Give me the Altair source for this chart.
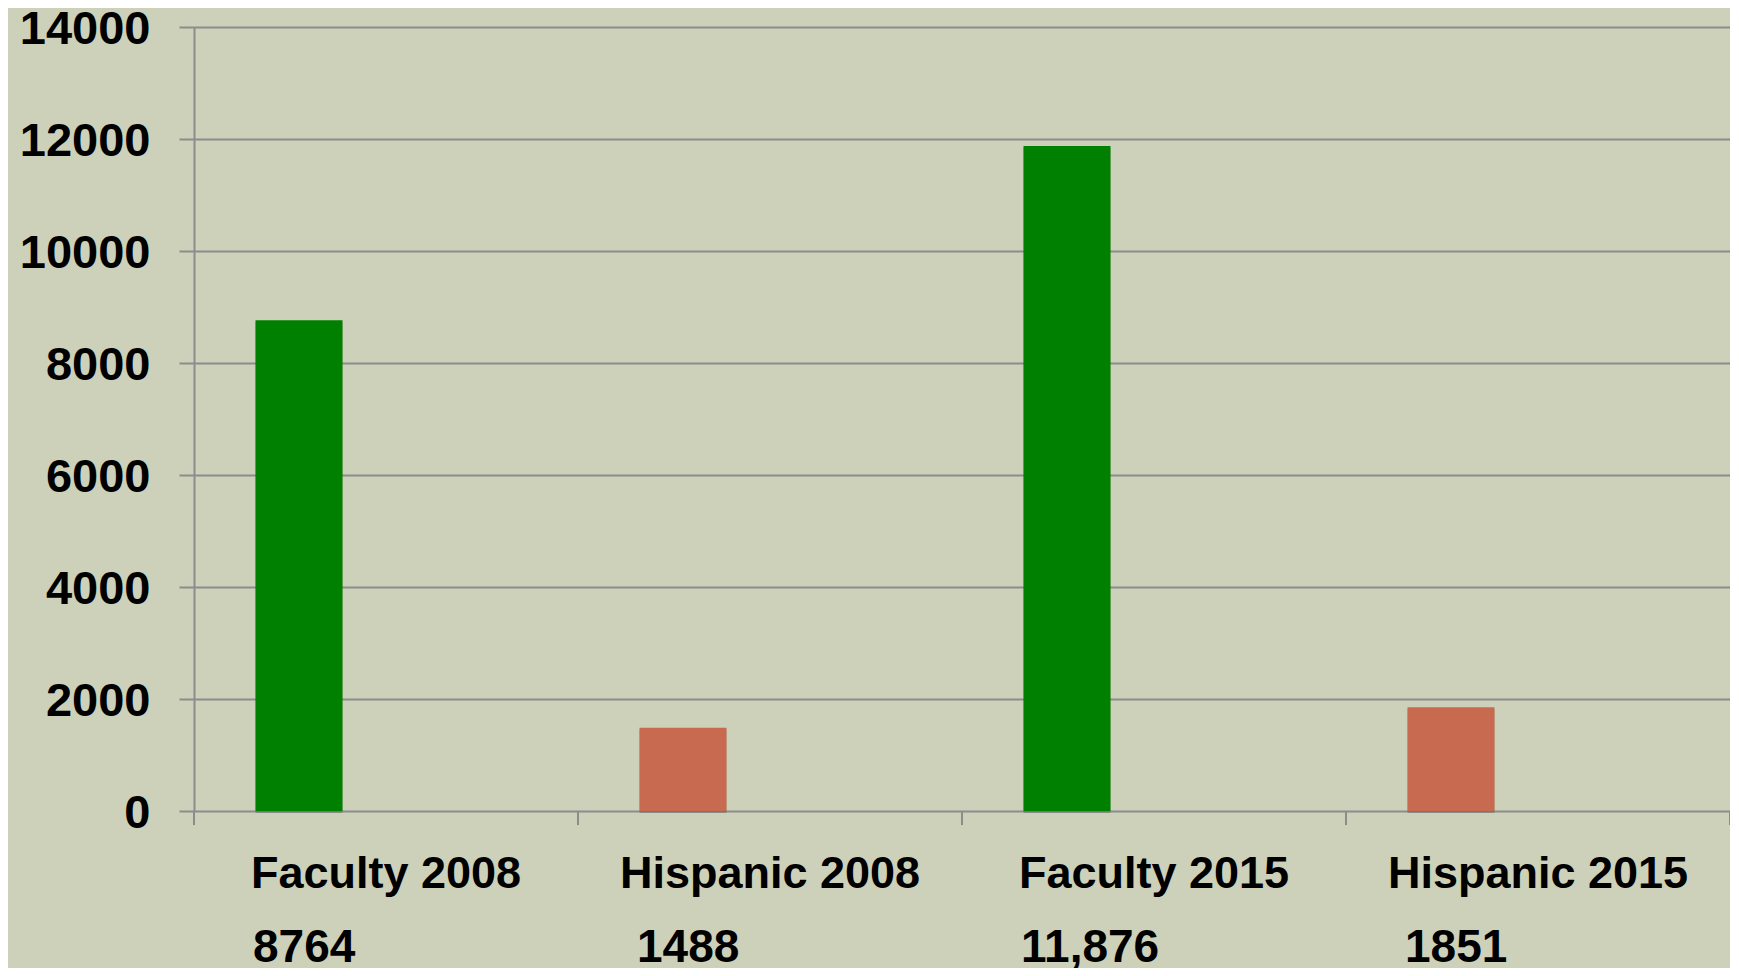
import altair as alt
import pandas as pd

categories = ["Faculty 2008", "Hispanic 2008", "Faculty 2015", "Hispanic 2015"]
values = [8764, 1488, 11876, 1851]
value_labels = ["8764", "1488", "11,876", "1851"]
groups = ["Faculty", "Hispanic", "Faculty", "Hispanic"]
slots = ["s1", "s2", "s3"]
y_ticks = [0, 2000, 4000, 6000, 8000, 10000, 12000, 14000]

df = pd.DataFrame({
    "cat": categories,
    "value": values,
    "label": value_labels,
    "group": groups,
    "slot": ["s1"] * len(categories),
})

W, H = 1536, 784
BG = "#CDD1BA"
GRID = "#8C8C8C"
FONT = "Liberation Sans, Arial, sans-serif"

x_enc = alt.X(
    "cat:N", sort=categories,
    scale=alt.Scale(paddingInner=0, paddingOuter=0),
    axis=alt.Axis(
        title=None, labelAngle=0, ticks=False, domain=False, grid=False,
        labelFont=FONT, labelFontSize=45, labelFontWeight="bold", labelLimit=0,
        labelColor="black", labelBaseline="alphabetic", labelPadding=76,
    ),
)
x_off = alt.XOffset("slot:N", scale=alt.Scale(domain=slots, paddingInner=0, paddingOuter=0.707))
y_enc = alt.Y(
    "value:Q",
    scale=alt.Scale(domain=[0, 14000], nice=False),
    axis=alt.Axis(
        values=y_ticks, format="d", title=None, grid=True, gridColor=GRID, gridWidth=2,
        gridOpacity=1, tickSize=15, tickColor=GRID, tickWidth=2,
        domain=True, domainColor=GRID, domainWidth=2,
        labelFont=FONT, labelFontSize=47, labelFontWeight="bold",
        labelColor="black", labelPadding=29,
        labelBaseline="alphabetic", labelOffset=16,
    ),
)

shadow = alt.Chart(df).mark_bar(
    color="#4A4A4A", opacity=0.35, xOffset=2, yOffset=2
).encode(x=x_enc, xOffset=x_off, y=y_enc)

bars = alt.Chart(df).mark_bar().encode(
    x=x_enc,
    xOffset=x_off,
    y=y_enc,
    color=alt.Color(
        "group:N",
        scale=alt.Scale(domain=["Faculty", "Hispanic"], range=["#008000", "#C86A50"]),
        legend=None,
    ),
)

ticks_start = alt.Chart(df).mark_rule(color=GRID, strokeWidth=2).encode(
    x=alt.X("cat:N", sort=categories, bandPosition=0),
    y=alt.value(H),
    y2=alt.value(H + 14),
)

ticks_end = alt.Chart(df).transform_filter(
    alt.datum.cat == categories[-1]
).mark_rule(color=GRID, strokeWidth=2).encode(
    x=alt.X("cat:N", sort=categories, bandPosition=1),
    y=alt.value(H),
    y2=alt.value(H + 14),
)

vals = alt.Chart(df).mark_text(
    align="left", baseline="alphabetic", dx=59,
    font=FONT, fontSize=46, fontWeight="bold", color="black",
).encode(
    x=alt.X("cat:N", sort=categories, bandPosition=0),
    y=alt.value(935),
    text="label:N",
)

chart = alt.layer(shadow, bars, ticks_start, ticks_end, vals).properties(
    width=W, height=H,
    autosize=alt.AutoSizeParams(type="none"),
    padding={"left": 186, "top": 19, "right": 0, "bottom": 157},
    background=BG,
).configure_view(stroke=None, fill=BG)

chart.save("out.html", embed_options={"renderer": "svg", "actions": False})
